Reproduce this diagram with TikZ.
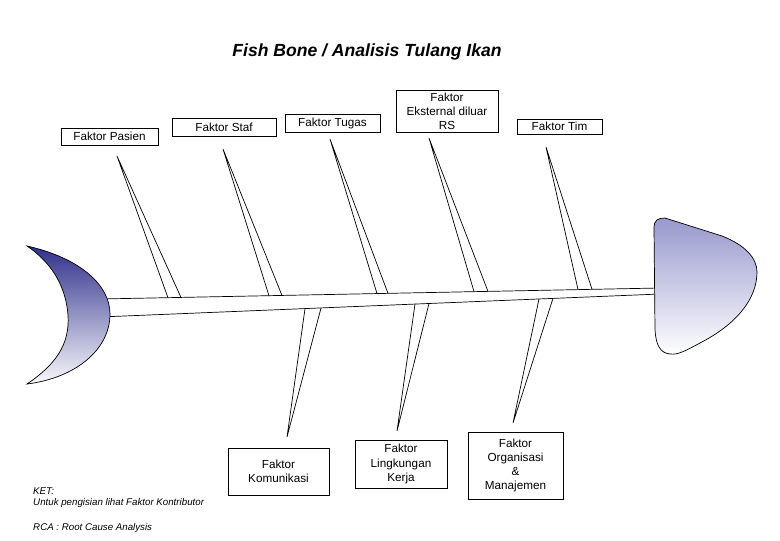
\documentclass[tikz,border=0pt]{standalone}
\usepackage{fontspec}
\setmainfont{Liberation Sans}
\usepackage{xcolor}
\definecolor{tailblue}{RGB}{48,48,140}
\definecolor{headblue}{RGB}{152,152,205}
\newlength\pxu
\setlength\pxu{0.3mm}
\tikzset{
	factor/.style={draw, line width=0.6pt, align=center, inner sep=0pt, font=\fontsize{10}{12}\selectfont},
	bone/.style={line width=0.6pt},
	note/.style={anchor=west, inner sep=0pt, font=\fontsize{8.3}{10}\selectfont\itshape}
}

\begin{document}
\begin{tikzpicture}[x=0.3mm,y=-0.3mm]
	\useasboundingbox (0,0) rectangle (780,540);

	\node (title) at (367,52) {\fontsize{15}{18}\selectfont\bfseries\itshape Fish Bone / Analisis Tulang Ikan};

	\coordinate (spineTL) at (100,299);
	\coordinate (spineTR) at (660,288);
	\coordinate (spineBL) at (100,317);
	\coordinate (spineBR) at (660,294);
	\draw[bone] (spineTL) -- (spineTR);
	\draw[bone] (spineBL) -- (spineBR);

	\draw[bone, top color=tailblue, bottom color=white!97!tailblue] (27,246) .. controls (80,258) and (110,285) .. (110,314)
		.. controls (110,350) and (75,378) .. (27,384) .. controls (55,365) and (70,345) .. (68,315)
		.. controls (66,290) and (55,265) .. (27,246) -- cycle;
	\draw[bone, top color=headblue, bottom color=white] (654,228) .. controls (654,220) and (658,218) .. (665,218) -- (722,236)
		.. controls (745,245) and (757,258) .. (757,272) .. controls (757,300) and (735,325) .. (700,343)
		.. controls (685,351) and (678,355) .. (670,354) .. controls (660,353) and (656,345) .. (655,330) -- cycle;

	\node[factor, minimum width=97\pxu, minimum height=17\pxu] (pasien) at (109.5,136.5) {Faktor Pasien};
	\node[factor, minimum width=104\pxu, minimum height=18\pxu] (staf) at (224,127) {Faktor Staf};
	\node[factor, minimum width=95\pxu, minimum height=18\pxu] (tugas) at (332.5,123) {Faktor Tugas};
	\node[factor, minimum width=102\pxu, minimum height=42\pxu] (eksternal) at (447,111) {Faktor\\Eksternal diluar\\RS};
	\node[factor, minimum width=85\pxu, minimum height=15\pxu] (tim) at (559.5,126.5) {Faktor Tim};
	\node[factor, minimum width=101\pxu, minimum height=47\pxu] (komunikasi) at (278.5,471.5) {Faktor\\Komunikasi};
	\node[factor, minimum width=92\pxu, minimum height=48\pxu] (lingkungan) at (401,464) {Faktor\\Lingkungan\\Kerja};
	\node[factor, minimum width=95\pxu, minimum height=67\pxu] (organisasi) at (515.5,465.5) {Faktor\\Organisasi\\\&\\Manajemen};

	\coordinate (pasienTip) at (117,156);
	\coordinate (stafTip) at (223,149);
	\coordinate (tugasTip) at (330,139);
	\coordinate (eksternalTip) at (429,138);
	\coordinate (timTip) at (546,147);
	\coordinate (komunikasiTip) at (287,437);
	\coordinate (lingkunganTip) at (397,431);
	\coordinate (organisasiTip) at (513,423);

	\draw[bone] (168,297.8) -- (pasienTip) -- (181,297.5);
	\draw[bone] (269,295.8) -- (stafTip) -- (282,295.5);
	\draw[bone] (377,293.6) -- (tugasTip) -- (388,293.4);
	\draw[bone] (474,291.6) -- (eksternalTip) -- (488,291.4);
	\draw[bone] (578,289.5) -- (timTip) -- (592,289.3);
	\draw[bone] (305,308.7) -- (komunikasiTip) -- (321,308.0);
	\draw[bone] (415,304.1) -- (lingkunganTip) -- (429,303.5);
	\draw[bone] (539,298.9) -- (organisasiTip) -- (553,298.3);

	\node[note] (ket) at (33,491) {KET:};
	\node[note] (ketline) at (33,503) {Untuk pengisian lihat Faktor Kontributor};
	\node[note] (rca) at (33,528) {RCA : Root Cause Analysis};
\end{tikzpicture}
\end{document}
